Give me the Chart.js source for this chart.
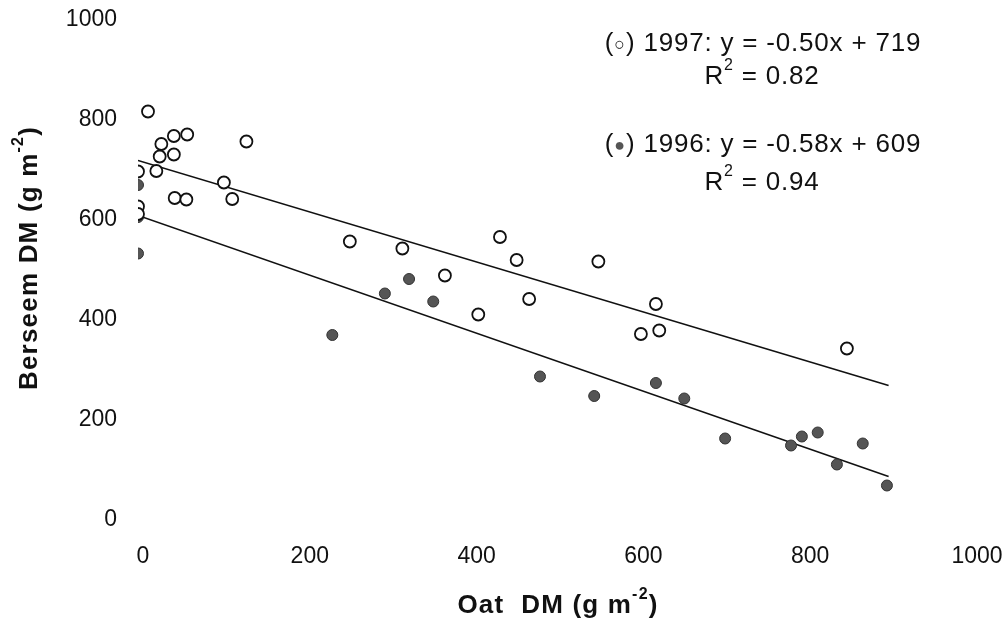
<!DOCTYPE html>
<html>
<head>
<meta charset="utf-8">
<script src="https://cdn.jsdelivr.net/npm/chart.js@4.4.1/dist/chart.umd.min.js"></script>
<style>
  html, body { margin: 0; padding: 0; background: #fff; }
  #wrap { width: 1003px; height: 622px; position: relative; }
</style>
</head>
<body>
<div id="wrap"><canvas id="chart-scatter"></canvas></div>
<script>
// 1997 (open circles)
var oat1997 = [12, 28, 43, 59, 130, 26, 43, 0, 22, 103, 44, 58, 113, 0, 0,
               254, 317, 434, 454, 552, 368, 469, 408, 621, 603, 625, 850];
var berseem1997 = [817, 752, 768, 771, 757, 727, 731, 697, 698, 675, 644, 641, 642, 627, 612,
                   557, 543, 566, 520, 517, 489, 442, 411, 432, 372, 379, 343];

// 1996 (filled circles)
var oat1996 = [0, 0, 0, 233, 296, 325, 354, 482, 547, 621, 655, 704, 783, 796, 815, 838, 869, 898];
var berseem1996 = [670, 606, 533, 370, 453, 482, 437, 287, 248, 274, 243, 163, 149, 167, 175, 111, 153, 69];

// fitted lines
var fitYears = ["1997", "1996"];
var fitSlope = [-0.50, -0.58];
var fitIntercept = [719, 609];
var fitR2 = [0.82, 0.94];
var fitRange = [0, 900];

var axisTicks = [0, 200, 400, 600, 800, 1000];

var FONT = "'Liberation Sans', Arial, sans-serif";

function toPoints(xs, ys) {
    return xs.map(function(x, i) { return { x: x, y: ys[i] }; });
}

function fitLine(k) {
    return fitRange.map(function(x) {
        return { x: x, y: fitSlope[k] * x + fitIntercept[k] };
    });
}

// draws a run of [text, kind] pieces: 0 normal, 1 superscript, 2 small symbol
function drawRun(ctx, parts, x, y, size, bold, align, spacing) {
    var base = (bold ? "bold " : "") + size + "px " + FONT;
    var sup = (bold ? "bold " : "") + Math.round(size * 0.62) + "px " + FONT;
    var sym = Math.round(size * 0.7) + "px " + FONT;
    ctx.letterSpacing = (spacing || 0) + "px";
    var widths = parts.map(function(p) {
        ctx.font = p[1] === 1 ? sup : (p[1] === 2 ? sym : base);
        return ctx.measureText(p[0]).width;
    });
    var total = widths.reduce(function(a, b) { return a + b; }, 0);
    var cx = align === "right" ? x - total : x - total / 2;
    ctx.textAlign = "left";
    ctx.textBaseline = "middle";
    parts.forEach(function(p, i) {
        if (p[1] === 1) {
            ctx.font = sup;
            ctx.fillText(p[0], cx, y - size * 0.42);
        } else if (p[1] === 2) {
            ctx.font = sym;
            ctx.fillStyle = p[2] || "#111";
            ctx.fillText(p[0], cx, y + 1);
            ctx.fillStyle = "#111";
        } else {
            ctx.font = base;
            ctx.fillText(p[0], cx, y);
        }
        cx += widths[i];
    });
    ctx.letterSpacing = "0px";
}

var textPlugin = {
    id: "figureText",
    afterDraw: function(chart) {
        var ctx = chart.ctx;
        ctx.save();
        ctx.fillStyle = "#111";

        // axis titles
        drawRun(ctx, [["Oat  DM (g m", 0], ["-2", 1], [")", 0]], 558, 606, 26, true, "center", 1.2);
        ctx.save();
        ctx.translate(30, 258);
        ctx.rotate(-Math.PI / 2);
        drawRun(ctx, [["Berseem DM (g m", 0], ["-2", 1], [")", 0]], 0, 0, 26, true, "center", 1.2);
        ctx.restore();

        // regression equations
        var symbols = [["\u25CB", "#111"], ["\u25CF", "#555"]];
        var rows = [[44, 77], [145, 183]];
        for (var k = 0; k < fitYears.length; k++) {
            var eq = fitYears[k] + ": y = " + fitSlope[k].toFixed(2) + "x + " + fitIntercept[k];
            drawRun(ctx, [["(", 0], [symbols[k][0], 2, symbols[k][1]], [") " + eq, 0]],
                    763, rows[k][0], 26, false, "center", 0.8);
            drawRun(ctx, [["R", 0], ["2", 1], [" = " + fitR2[k].toFixed(2), 0]],
                    762, rows[k][1], 26, false, "center", 0.8);
        }
        ctx.restore();
    }
};

var ctx = document.getElementById("chart-scatter");

var tickFont = { size: 23, family: FONT };

var myChart = new Chart(ctx, {
    type: "scatter",
    data: {
        datasets: [{
            label: "1997",
            data: toPoints(oat1997, berseem1997),
            pointStyle: "circle",
            pointRadius: 6,
            pointBorderWidth: 1.8,
            borderColor: "#111",
            backgroundColor: "#fff",
            order: 0
        }, {
            label: "1996",
            data: toPoints(oat1996, berseem1996),
            pointStyle: "circle",
            pointRadius: 5.5,
            pointBorderWidth: 1,
            borderColor: "#333",
            backgroundColor: "#555",
            order: 1
        }, {
            type: "line",
            label: "fit 1997",
            data: fitLine(0),
            borderColor: "#111",
            borderWidth: 1.6,
            pointRadius: 0,
            fill: false,
            order: 2
        }, {
            type: "line",
            label: "fit 1996",
            data: fitLine(1),
            borderColor: "#111",
            borderWidth: 1.6,
            pointRadius: 0,
            fill: false,
            order: 2
        }]
    },
    options: {
        responsive: true,
        maintainAspectRatio: false,
        animation: false,
        layout: { padding: { top: 20, right: 31, left: 0, bottom: 0 } },
        scales: {
            x: {
                type: "linear",
                min: 0,
                max: 1000,
                grid: { display: false, drawTicks: false },
                border: { display: false },
                afterFit: function(scale) {
                    scale.height = 102;
                    scale.paddingLeft = 0;
                    scale.paddingRight = 0;
                },
                afterBuildTicks: function(scale) {
                    scale.ticks = axisTicks.map(function(v) { return { value: v }; });
                },
                ticks: {
                    padding: 23,
                    labelOffset: 5,
                    maxRotation: 0,
                    color: "#111",
                    font: tickFont,
                    callback: function(v) { return String(v); }
                }
            },
            y: {
                type: "linear",
                min: 0,
                max: 1000,
                grid: { display: false, drawTicks: false },
                border: { display: false },
                afterFit: function(scale) {
                    scale.width = 138;
                    scale.paddingTop = 0;
                    scale.paddingBottom = 0;
                },
                afterBuildTicks: function(scale) {
                    scale.ticks = axisTicks.map(function(v) { return { value: v }; });
                },
                ticks: {
                    padding: 21,
                    color: "#111",
                    font: tickFont,
                    callback: function(v) { return String(v); }
                }
            }
        },
        plugins: {
            legend: { display: false },
            tooltip: { enabled: false }
        }
    },
    plugins: [textPlugin]
});
</script>
</body>
</html>
